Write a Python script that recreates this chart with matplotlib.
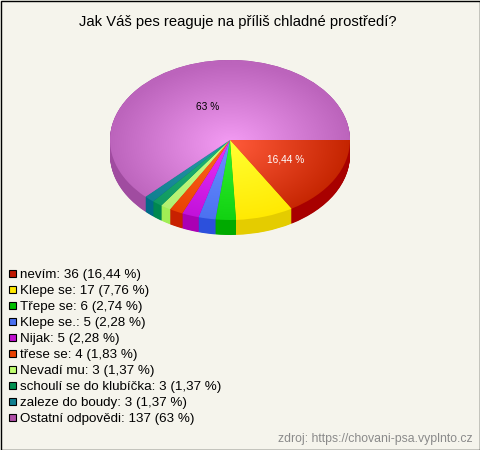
import numpy as np
import matplotlib
matplotlib.use("Agg")
import matplotlib.pyplot as plt
from matplotlib.patches import Rectangle
from matplotlib.colors import to_rgb

title = "Jak Váš pes reaguje na příliš chladné prostředí?"
source = "zdroj: https://chovani-psa.vyplnto.cz"
categories = ["nevím", "Klepe se", "Třepe se", "Klepe se.", "Nijak", "třese se",
              "Nevadí mu", "schoulí se do klubíčka", "zaleze do boudy", "Ostatní odpovědi"]
values = [36, 17, 6, 5, 5, 4, 3, 3, 3, 137]
percents = ["16,44", "7,76", "2,74", "2,28", "2,28", "1,83", "1,37", "1,37", "1,37", "63"]
slice_labels = {0: ("16,44 %", "white", 0.533, 0.5), 9: ("63 %", "black", 0.484, 0.447)}

light = ["#ff5a3a", "#ffff30", "#30f030", "#6a90ff", "#e830f8", "#ff6a20", "#c8ff88", "#22b878", "#2a9aaa", "#f49cf4"]
dark = ["#c42400", "#ffe800", "#10d010", "#4a70f0", "#c010d8", "#e84000", "#b0f070", "#109860", "#107f90", "#bc64bc"]
side = ["#a80000", "#e4cc00", "#00aa00", "#2c50dc", "#aa00b4", "#c82000", "#a0ee55", "#008850", "#006a88", "#a04ca0"]
legend_colors = ["#c01800", "#ffe800", "#00c000", "#4a70f0", "#c010d0", "#e84000", "#c0ff70", "#009050", "#107f90", "#b050a8"]
BG = "#f5f4ec"

W, H = 480, 450
CX, CY, RX, RY, DEPTH = 230, 140, 120, 80, 15

fig = plt.figure(figsize=(W / 100, H / 100), dpi=100, facecolor=BG)
plt.rcParams["font.family"] = ["Liberation Sans", "DejaVu Sans"]

ax = fig.add_axes([0, 0, 1, 1], facecolor="none")
xlim = (-CX / RX, (W - CX) / RX)
ylim = (-(H - CY) / RY, CY / RY)

for d in np.arange(DEPTH, 0, -0.5):
    ax.pie(values, startangle=0, counterclock=False, colors=side, center=(0, -d / RY),
           wedgeprops=dict(linewidth=0), frame=True)
wedges, _ = ax.pie(values, startangle=0, counterclock=False, colors=side,
                   wedgeprops=dict(linewidth=0), frame=True)
ax.set_aspect("auto")
ax.set_xlim(*xlim)
ax.set_ylim(*ylim)
ax.axis("off")

n = 400
xs, ys = np.meshgrid(np.linspace(-1.02, 1.02, n), np.linspace(1.02, -1.02, n))
r = np.clip(np.hypot(xs, ys + 0.05), 0, 1)[..., None]
for w, lo, hi in zip(wedges, light, dark):
    img = np.array(to_rgb(lo)) * (1 - r) + np.array(to_rgb(hi)) * r
    im = ax.imshow(img, extent=(-1.02, 1.02, -1.02, 1.02), aspect="auto", zorder=5,
                   interpolation="bilinear")
    im.set_clip_path(w)
ax.set_xlim(*xlim)
ax.set_ylim(*ylim)

total = sum(values)
cum = np.cumsum([0] + values)
for i, (txt, col, kx, ky) in slice_labels.items():
    mid = np.deg2rad(-(cum[i] + cum[i + 1]) / 2 / total * 360)
    ax.text(kx * np.cos(mid), ky * np.sin(mid), txt, color=col, fontsize=7.3,
            ha="center", va="center", zorder=6)

ov = fig.add_axes([0, 0, 1, 1], facecolor="none")
ov.set_xlim(0, W)
ov.set_ylim(H, 0)
ov.axis("off")
ov.text(237.5, 22, title, fontsize=10.6, ha="center", va="center", color="#000000")
for i, (c, v, p, col) in enumerate(zip(categories, values, percents, legend_colors)):
    y = 274 + i * 16
    ov.add_patch(Rectangle((9, y - 4), 7, 7, facecolor=col, edgecolor="black", linewidth=0.8))
    ov.text(20, y + 1, f"{c}: {v} ({p} %)", fontsize=9.6, ha="left", va="center", color="#000000")
ov.text(473, 439, source, fontsize=8.87, ha="right", va="center", color="#8a8a8a")
ov.add_patch(Rectangle((0.5, 0.5), W - 1, H - 1, fill=False, edgecolor="black", linewidth=1))

fig.savefig("out.png", dpi=100, facecolor=BG)
